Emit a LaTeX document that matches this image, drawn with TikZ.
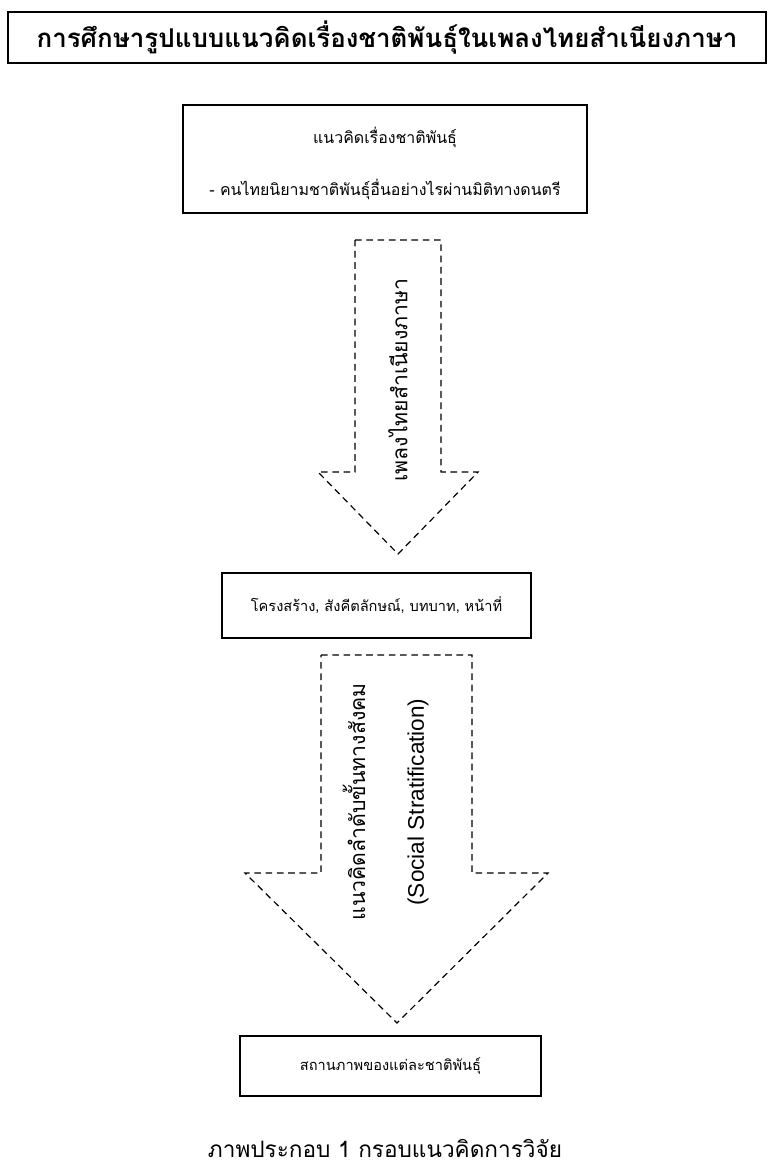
\documentclass[tikz,border=0pt]{standalone}
\usepackage{fontspec}
\setmainfont[Script=Thai]{Loma}
\newfontfamily\latinfont{Liberation Sans}
\usetikzlibrary{positioning}

\newcommand{\pxu}{0.02646cm}

\tikzset{
  framebox/.style={draw, line width=0.9pt, inner sep=0pt},
  blockarrow/.style={draw, line width=0.9pt, dash pattern=on 5pt off 3.5pt, line join=miter},
  boxtext/.style={font=\fontsize{11}{13}\selectfont},
  arrowtext/.style={rotate=90, font=\fontsize{16}{18}\selectfont}
}

\begin{document}
\begin{tikzpicture}[x=\pxu, y=-\pxu]
        % Marco de la imagen
        \useasboundingbox (0,0) rectangle (769,1170);
        % Titulo
        \node[framebox, line width=2pt, minimum width=758*\pxu, minimum height=51*\pxu,
              font=\bfseries\fontsize{19.5}{21}\selectfont] (titulo) at (387,37.5)
              {การศึกษารูปแบบแนวคิดเรื่องชาติพันธุ์ในเพลงไทยสำเนียงภาษา};
        % Concepto
        \node[framebox, minimum width=404*\pxu, minimum height=108*\pxu] (concepto) at (385,159) {};
        \node[font=\fontsize{12}{14}\selectfont] (concepto1) at (385,137) {แนวคิดเรื่องชาติพันธุ์};
        \node[font=\fontsize{12}{14}\selectfont] (concepto2) at (385,189) {- คนไทยนิยามชาติพันธุ์อื่นอย่างไรผ่านมิติทางดนตรี};
        % Primera flecha
        \draw[blockarrow] (355,240) -- (441,240) -- (441,472) -- (478,472) -- (398,554)
              -- (318,472) -- (355,472) -- cycle;
        \node[arrowtext] (cancion) at (398,380) {เพลงไทยสำเนียงภาษา};
        % Estructura
        \node[framebox, boxtext, minimum width=309*\pxu, minimum height=65*\pxu] (estructura) at (376.5,605.5)
              {โครงสร้าง, สังคีตลักษณ์, บทบาท, หน้าที่};
        % Segunda flecha
        \draw[blockarrow] (321,655) -- (472,655) -- (472,873) -- (548,873) -- (397,1023)
              -- (245,873) -- (321,873) -- cycle;
        \node[arrowtext] (estrato) at (354,802) {แนวคิดลำดับขั้นทางสังคม};
        \node[arrowtext, font=\latinfont\fontsize{17}{19}\selectfont] (estratoen) at (418,802)
              {(Social Stratification)};
        % Estatus
        \node[framebox, boxtext, minimum width=301*\pxu, minimum height=60*\pxu] (estatus) at (390.5,1066)
              {สถานภาพของแต่ละชาติพันธุ์};
        % Pie de figura
        \node[font=\fontsize{17}{20}\selectfont] (pie) at (385,1148) {ภาพประกอบ 1 กรอบแนวคิดการวิจัย};
\end{tikzpicture}
\end{document}
